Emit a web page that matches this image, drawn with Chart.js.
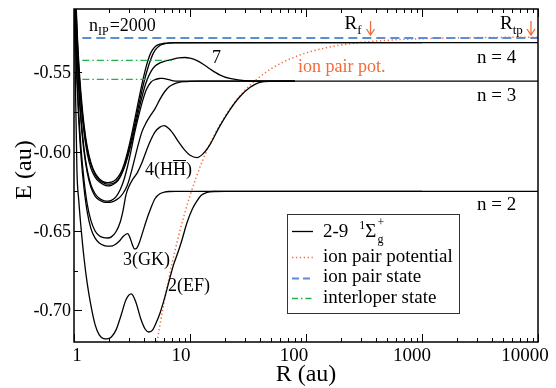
<!DOCTYPE html>
<html>
<head>
<meta charset="utf-8">
<script src="https://cdn.jsdelivr.net/npm/chart.js@4.4.1/dist/chart.umd.min.js"></script>
<style>html,body{margin:0;padding:0;background:#fff}</style>
</head>
<body>
<canvas id="pec" width="556" height="388"></canvas>
<script>
// tick values / labels
const xTicks = [1, 10, 100, 1000, 10000];
const xTickLabels = ['1', '10', '100', '1000', '10000'];
const yTicks = [-0.70, -0.65, -0.60, -0.55];
const yTickLabels = ['-0.70', '-0.65', '-0.60', '-0.55'];
const yMinor = [-0.675, -0.625, -0.575, -0.525];

// 2(EF)
const efR = [1.00, 1.03, 1.06, 1.10, 1.15, 1.22, 1.30, 1.40, 1.52, 1.65, 1.80, 1.93, 2.10, 2.30, 2.55, 2.80, 3.12, 3.40, 3.75, 4.10, 4.43, 4.75, 5.10, 5.50, 6.00, 6.50, 7.20, 8.00, 8.50, 9.40, 10.5, 11.5, 12.5, 14.0, 16.0, 20.0, 10000];
const efE = [-0.49, -0.56, -0.612, -0.631, -0.648, -0.667, -0.683, -0.697, -0.709, -0.7155, -0.7178, -0.718, -0.7168, -0.7125, -0.703, -0.6935, -0.6897, -0.6945, -0.705, -0.7118, -0.7137, -0.7125, -0.708, -0.702, -0.693, -0.6835, -0.6715, -0.662, -0.656, -0.645, -0.636, -0.631, -0.6275, -0.6257, -0.6251, -0.625, -0.625];

// 3(GK)
const gkR = [1.00, 1.03, 1.06, 1.10, 1.15, 1.22, 1.30, 1.40, 1.52, 1.65, 1.80, 1.95, 2.08, 2.25, 2.45, 2.65, 2.90, 3.05, 3.18, 3.32, 3.45, 3.65, 3.90, 4.20, 4.60, 5.00, 5.50, 6.00, 6.60, 7.50, 1000];
const gkE = [-0.505, -0.532, -0.556, -0.581, -0.603, -0.623, -0.638, -0.6485, -0.6545, -0.6575, -0.659, -0.6595, -0.6596, -0.6587, -0.6565, -0.6535, -0.6517, -0.6545, -0.6585, -0.6613, -0.661, -0.6575, -0.651, -0.6435, -0.6355, -0.6295, -0.6265, -0.6255, -0.6251, -0.625, -0.625];

// 4(HHbar)
const hhR = [1.00, 1.03, 1.06, 1.10, 1.15, 1.22, 1.30, 1.40, 1.52, 1.65, 1.80, 1.95, 2.10, 2.30, 2.50, 2.65, 2.80, 2.95, 3.20, 3.50, 3.85, 4.20, 4.60, 5.00, 5.50, 6.00, 6.60, 7.30, 8.00, 9.00, 10.0, 11.5, 13.0, 15.0, 18.0, 22.0, 27.0, 33.0, 40.0, 50.0, 80.0];
const hhE = [-0.50, -0.527, -0.551, -0.576, -0.598, -0.618, -0.633, -0.6435, -0.650, -0.653, -0.6542, -0.6544, -0.6537, -0.6505, -0.6445, -0.637, -0.6275, -0.6225, -0.6175, -0.6135, -0.607, -0.5995, -0.5925, -0.5875, -0.5845, -0.5835, -0.5855, -0.5895, -0.594, -0.599, -0.6022, -0.6037, -0.6012, -0.595, -0.584, -0.5737, -0.5652, -0.5594, -0.5562, -0.5556, -0.5555];

// state 5 (smooth to n = 3)
const s5R = [1.00, 1.03, 1.06, 1.10, 1.15, 1.22, 1.30, 1.40, 1.52, 1.65, 1.80, 1.95, 2.10, 2.30, 2.50, 2.65, 2.80, 2.95, 3.10, 3.30, 3.55, 3.85, 4.20, 4.60, 5.00, 5.50, 6.00, 6.60, 7.30, 8.00, 9.00, 10.0, 12.0, 80.0];
const s5E = [-0.49, -0.515, -0.538, -0.561, -0.581, -0.600, -0.613, -0.6225, -0.628, -0.6305, -0.6318, -0.632, -0.6318, -0.6305, -0.6285, -0.6262, -0.6232, -0.619, -0.6135, -0.6058, -0.5965, -0.5875, -0.5815, -0.5768, -0.5728, -0.567, -0.5625, -0.559, -0.5572, -0.5563, -0.5558, -0.5556, -0.5555, -0.5555];

// state 6 (small bump at n = 3)
const s6R = [1.00, 1.03, 1.06, 1.10, 1.15, 1.22, 1.30, 1.40, 1.52, 1.65, 1.80, 1.95, 2.10, 2.30, 2.50, 2.70, 2.90, 3.10, 3.30, 3.55, 3.85, 4.20, 4.60, 5.00, 5.50, 5.85, 6.30, 7.00, 8.00, 9.00, 10.0, 80.0];
const s6E = [-0.488, -0.513, -0.536, -0.559, -0.579, -0.598, -0.6115, -0.621, -0.6265, -0.6293, -0.6308, -0.6312, -0.6307, -0.6285, -0.624, -0.6175, -0.609, -0.5995, -0.5895, -0.5795, -0.5695, -0.561, -0.5562, -0.5545, -0.5538, -0.5537, -0.5542, -0.5551, -0.5555, -0.5555, -0.5555, -0.5555];

// state 7
const s7R = [1.00, 1.03, 1.06, 1.10, 1.15, 1.22, 1.30, 1.40, 1.52, 1.65, 1.80, 1.95, 2.10, 2.30, 2.50, 2.70, 2.90, 3.10, 3.30, 3.55, 3.85, 4.20, 4.60, 5.00, 5.50, 6.00, 6.60, 7.30, 8.00, 9.00, 10.0, 11.5, 13.0, 15.0, 18.0, 22.0, 27.0, 33.0, 40.0, 10000];
const s7E = [-0.472, -0.502, -0.527, -0.550, -0.570, -0.588, -0.601, -0.6105, -0.616, -0.619, -0.6208, -0.6215, -0.6212, -0.6195, -0.616, -0.6105, -0.6035, -0.5955, -0.587, -0.5765, -0.5655, -0.556, -0.5495, -0.546, -0.544, -0.543, -0.5422, -0.5414, -0.5408, -0.5406, -0.541, -0.5425, -0.5448, -0.548, -0.5515, -0.5538, -0.5549, -0.5554, -0.5555, -0.5555];

// states 8, 9 (to n = 4)
const s8R = [1.00, 1.03, 1.06, 1.10, 1.15, 1.22, 1.30, 1.40, 1.52, 1.65, 1.80, 1.95, 2.10, 2.30, 2.50, 2.70, 2.90, 3.10, 3.30, 3.55, 3.85, 4.20, 4.60, 5.00, 5.50, 6.00, 6.60, 7.30, 1000];
const s8E = [-0.468, -0.499, -0.524, -0.547, -0.567, -0.585, -0.5985, -0.608, -0.6145, -0.6178, -0.6197, -0.6205, -0.6203, -0.619, -0.6155, -0.6098, -0.602, -0.5935, -0.5845, -0.5735, -0.5615, -0.5505, -0.5415, -0.536, -0.533, -0.532, -0.5315, -0.5313, -0.53125];
const s9R = [1.00, 1.03, 1.06, 1.10, 1.15, 1.22, 1.30, 1.40, 1.52, 1.65, 1.80, 1.95, 2.10, 2.30, 2.50, 2.70, 2.90, 3.10, 3.30, 3.55, 3.85, 4.20, 4.60, 5.00, 5.50, 6.00, 6.60, 7.30, 10000];
const s9E = [-0.465, -0.496, -0.521, -0.544, -0.564, -0.583, -0.597, -0.607, -0.6135, -0.617, -0.619, -0.6195, -0.6192, -0.6175, -0.614, -0.608, -0.600, -0.591, -0.5815, -0.570, -0.5575, -0.546, -0.5375, -0.5338, -0.5322, -0.5316, -0.5313, -0.53125, -0.53125];

// ion pair potential (dotted)
const ipR = [5.2, 5.5, 6, 6.5, 7, 8, 9, 10, 11.5, 13, 15, 18, 22, 27, 33, 40, 50, 65, 85, 110, 150, 200, 280, 400, 600, 1000, 2000, 5000, 10000];
const ipE = [-0.7200, -0.7095, -0.6944, -0.6815, -0.6706, -0.6527, -0.6388, -0.6277, -0.6147, -0.6046, -0.5944, -0.5833, -0.5732, -0.5647, -0.5580, -0.5527, -0.5477, -0.5431, -0.5395, -0.5368, -0.5344, -0.5327, -0.5313, -0.5302, -0.5294, -0.5287, -0.5282, -0.5279, -0.5278];

// ion pair state n_IP = 2000 (dashed) and interloper states (dash-dot)
const ipsR = [1.18, 10000];
const ipsE = [-0.5283, -0.5283];
const intR1 = [1.18, 7.0];
const intE1 = [-0.5424, -0.5424];
const intR2 = [1.18, 4.6];
const intE2 = [-0.5544, -0.5544];

// R_f and R_tp markers
const markR = [360, 8700];

const ORANGE = '#f26b3a';
const BLUE = '#5b8ed6';
const GREEN = '#1fb24a';
const SERIF = '"Liberation Serif", "Times New Roman", serif';

const pts = (rs, es) => rs.map((r, i) => ({ x: r, y: es[i] }));

const curve = (rs, es) => ({
  data: pts(rs, es),
  showLine: true,
  borderColor: '#000',
  borderWidth: 1.3,
  pointRadius: 0,
  cubicInterpolationMode: 'monotone'
});

const decor = {
  id: 'decor',
  afterDatasetsDraw(chart) {
    const { ctx, chartArea: a, scales: { x, y } } = chart;
    const font = (s) => s + 'px ' + SERIF;
    const txt = (s, px, py, size, align, color) => {
      ctx.font = font(size);
      ctx.textAlign = align || 'left';
      ctx.textBaseline = 'alphabetic';
      ctx.fillStyle = color || '#000';
      ctx.fillText(s, px, py);
      return ctx.measureText(s).width;
    };

    ctx.save();
    // frame
    ctx.strokeStyle = '#000';
    ctx.lineWidth = 1.5;
    ctx.strokeRect(a.left, a.top, a.right - a.left, a.bottom - a.top);

    // x ticks, inward, bottom and top
    ctx.lineWidth = 1;
    ctx.beginPath();
    xTicks.forEach((d, i) => {
      const px = Math.round(x.getPixelForValue(d)) + 0.5;
      ctx.moveTo(px, a.bottom); ctx.lineTo(px, a.bottom - 8);
      ctx.moveTo(px, a.top); ctx.lineTo(px, a.top + 8);
      if (i < xTicks.length - 1) {
        for (let k = 2; k <= 9; k++) {
          const mx = Math.round(x.getPixelForValue(d * k)) + 0.5;
          ctx.moveTo(mx, a.bottom); ctx.lineTo(mx, a.bottom - 4);
          ctx.moveTo(mx, a.top); ctx.lineTo(mx, a.top + 4);
        }
      }
    });
    yTicks.forEach((v) => {
      const py = Math.round(y.getPixelForValue(v)) + 0.5;
      ctx.moveTo(a.left, py); ctx.lineTo(a.left + 8, py);
    });
    yMinor.forEach((v) => {
      const py = Math.round(y.getPixelForValue(v)) + 0.5;
      ctx.moveTo(a.left, py); ctx.lineTo(a.left + 4, py);
    });
    ctx.stroke();

    // tick labels (the picture sets them a little left of the ticks)
    const xShift = [3, -9, -12, -10, -13];
    xTicks.forEach((d, i) => txt(xTickLabels[i], x.getPixelForValue(d) + xShift[i], a.bottom + 19, 19, 'center'));
    yTicks.forEach((v, i) => txt(yTickLabels[i], a.left - 3, y.getPixelForValue(v) + 6, 18, 'right'));

    // axis titles
    txt('R (au)', (a.left + a.right) / 2, 381, 24, 'center');
    ctx.save();
    ctx.translate(31, 170);
    ctx.rotate(-Math.PI / 2);
    txt('E (au)', 0, 0, 24, 'center');
    ctx.restore();

    // n_IP = 2000
    let cx = 89;
    cx += txt('n', cx, 31, 18);
    cx += txt('IP', cx, 35, 12);
    txt('=2000', cx + 1, 31, 18);

    // labels of states
    txt('7', 212, 63, 18);
    const w4 = txt('4(H', 145, 175, 18);
    const wH = txt('H', 145 + w4, 175, 18);
    txt(')', 145 + w4 + wH, 175, 18);
    ctx.strokeStyle = '#000';
    ctx.lineWidth = 1;
    ctx.beginPath();
    ctx.moveTo(145 + w4, 160.5); ctx.lineTo(145 + w4 + wH, 160.5);
    ctx.stroke();
    txt('3(GK)', 123, 265, 18);
    txt('2(EF)', 168, 291, 18);
    txt('ion pair pot.', 298, 72, 18, 'left', ORANGE);
    txt('n = 4', 477, 63, 19);
    txt('n = 3', 477, 101, 19);
    txt('n = 2', 477, 210, 19);

    // R_f and R_tp markers
    const arrow = (px) => {
      ctx.strokeStyle = ORANGE;
      ctx.lineWidth = 1.3;
      ctx.beginPath();
      ctx.moveTo(px, 21); ctx.lineTo(px, 35);
      ctx.moveTo(px - 4, 29); ctx.lineTo(px, 35); ctx.lineTo(px + 4, 29);
      ctx.stroke();
    };
    const fx = x.getPixelForValue(markR[0]);
    const tx = x.getPixelForValue(markR[1]);
    const wr = txt('R', fx - 26, 29, 19);
    txt('f', fx - 26 + wr, 34, 13);
    arrow(fx);
    const wr2 = txt('R', tx - 31, 29, 19);
    txt('tp', tx - 31 + wr2, 34, 13);
    arrow(tx);

    // legend
    const L = { l: 287, t: 214, r: 459, b: 313 };
    ctx.fillStyle = '#fff';
    ctx.fillRect(L.l, L.t, L.r - L.l, L.b - L.t);
    ctx.strokeStyle = '#333';
    ctx.lineWidth = 1;
    ctx.strokeRect(L.l + 0.5, L.t + 0.5, L.r - L.l, L.b - L.t);
    const sample = (yy, color, dash, w) => {
      ctx.strokeStyle = color;
      ctx.lineWidth = w;
      ctx.setLineDash(dash);
      ctx.beginPath();
      ctx.moveTo(292, yy); ctx.lineTo(313, yy);
      ctx.stroke();
      ctx.setLineDash([]);
    };
    sample(231.5, '#000', [], 1.3);
    sample(257.5, ORANGE, [1.3, 2.6], 1.5);
    sample(278.5, BLUE, [7, 4], 2);
    sample(298.5, GREEN, [6, 3, 1.5, 3], 1.3);
    let lx = 323;
    lx += txt('2-9', lx, 237, 19);
    lx += 11;
    lx += txt('1', lx, 229, 12);
    lx += txt('\u03A3', lx, 237, 19);
    txt('+', lx + 1, 226, 12);
    txt('g', lx + 1, 243, 12);
    txt('ion pair potential', 323, 262, 19);
    txt('ion pair state', 323, 282, 19);
    txt('interloper state', 323, 303, 19);
    ctx.restore();
  }
};

const datasets = [
  {
    data: pts(ipsR, ipsE), showLine: true, borderColor: BLUE, borderWidth: 2,
    borderDash: [9, 5], pointRadius: 0
  },
  {
    data: pts(intR1, intE1), showLine: true, borderColor: GREEN, borderWidth: 1.3,
    borderDash: [7, 3, 1.5, 3], pointRadius: 0
  },
  {
    data: pts(intR2, intE2), showLine: true, borderColor: GREEN, borderWidth: 1.3,
    borderDash: [7, 3, 1.5, 3], pointRadius: 0
  },
  curve(efR, efE),
  curve(gkR, gkE),
  curve(hhR, hhE),
  curve(s5R, s5E),
  curve(s6R, s6E),
  curve(s7R, s7E),
  curve(s8R, s8E),
  curve(s9R, s9E),
  {
    data: pts(ipR, ipE), showLine: true, borderColor: ORANGE, borderWidth: 1.5,
    borderDash: [1.3, 2.6], pointRadius: 0, cubicInterpolationMode: 'monotone'
  }
];

new Chart(document.getElementById('pec').getContext('2d'), {
  type: 'scatter',
  data: { datasets },
  options: {
    responsive: false,
    animation: false,
    layout: { padding: { left: 74, top: 9, right: 18, bottom: 46 } },
    scales: {
      x: { type: 'logarithmic', min: 1, max: 10000, display: false },
      y: { type: 'linear', min: -0.72, max: -0.51, display: false }
    },
    plugins: { legend: { display: false }, tooltip: { enabled: false } }
  },
  plugins: [decor]
});
</script>
</body>
</html>
